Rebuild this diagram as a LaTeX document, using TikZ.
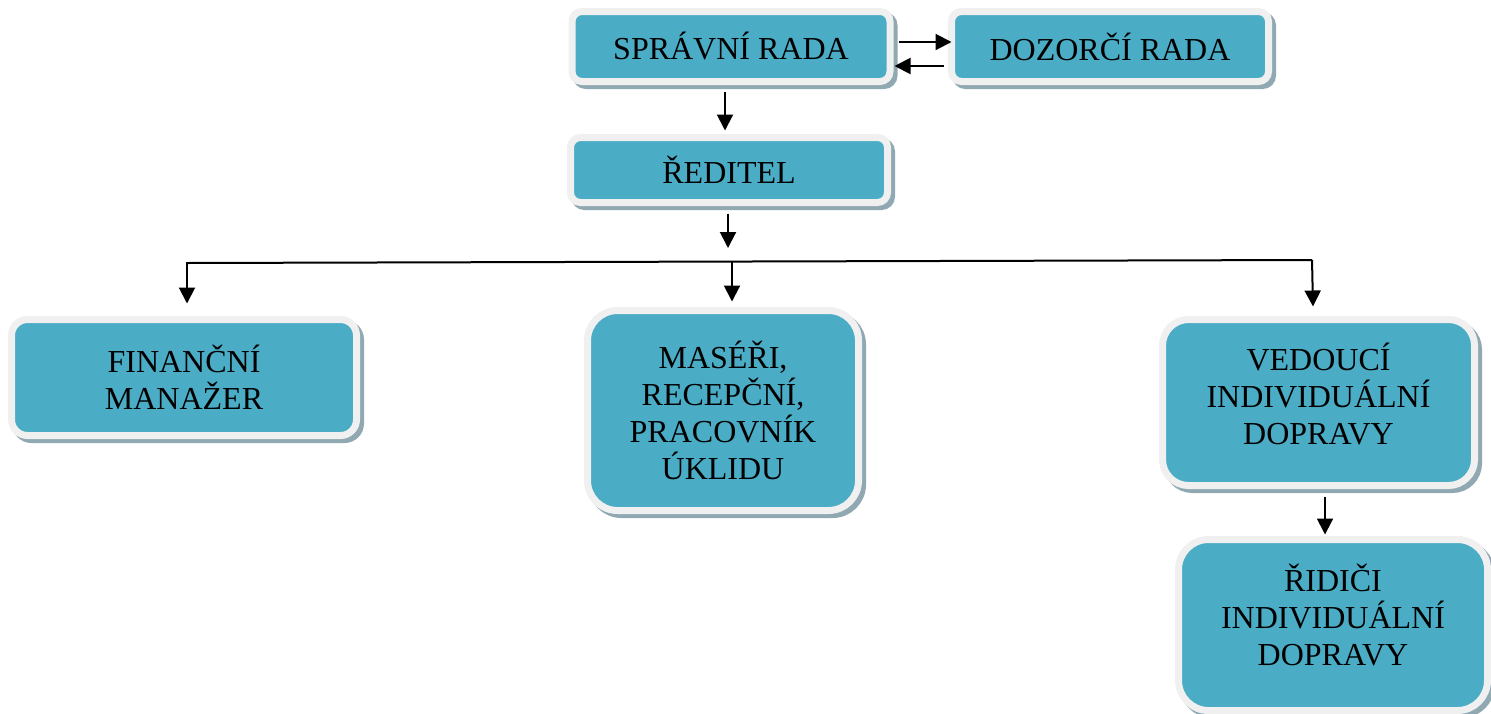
\documentclass[tikz,border=0pt]{standalone}
\usepackage{fontspec}
\setmainfont{Liberation Serif}
\usetikzlibrary{calc,arrows.meta}
\definecolor{boxteal}{HTML}{4BACC6}
\definecolor{boxrim}{HTML}{F0F0F0}
\definecolor{boxshadow}{HTML}{8FA8B2}
\tikzset{
  orgbox/.style={fill=boxteal, draw=boxrim, line width=3.5pt, align=center,
    font=\fontsize{16pt}{18.5pt}\selectfont, text=black, inner sep=0pt,
    preaction={draw=boxshadow, fill=boxshadow, line width=3.5pt,
      transform canvas={xshift=2pt,yshift=-2pt}}},
  arr/.style={line width=1pt, -{Triangle[length=8pt,width=8pt]}},
  plain/.style={line width=1pt}
}
\begin{document}
\begin{tikzpicture}[x=0.5pt,y=-0.5pt]
\useasboundingbox (0,0) rectangle (1491,713);
\node[orgbox, rounded corners=5pt, minimum width=159pt, minimum height=35pt] (sr) at (731,46.5) {SPRÁVNÍ RADA};
\node[orgbox, rounded corners=5pt, minimum width=158.5pt, minimum height=35pt] (doz) at (1110,46.5) {DOZORČÍ RADA};
\node[orgbox, rounded corners=5pt, minimum width=158.5pt, minimum height=32.5pt] (red) at (729,170) {ŘEDITEL};
\node[orgbox, rounded corners=8pt, minimum width=172.5pt, minimum height=58pt] (fin) at (184,377.5) {FINANČNÍ\\MANAŽER};
\node[orgbox, rounded corners=15pt, minimum width=135.5pt, minimum height=100pt] (mas) at (723,410.5) {MASÉŘI,\\RECEPČNÍ,\\PRACOVNÍK\\ÚKLIDU};
\node[orgbox, rounded corners=13pt, minimum width=156pt, minimum height=83pt] (ved) at (1318.5,402.5) {VEDOUCÍ\\INDIVIDUÁLNÍ\\DOPRAVY\\[-10pt]};
\node[orgbox, rounded corners=15pt, minimum width=154.5pt, minimum height=85.5pt] (rid) at (1333,625) {ŘIDIČI\\INDIVIDUÁLNÍ\\DOPRAVY\\[-8.5pt]};
% side arrows
\draw[arr] ($(sr.east)+(5,-4.5)$) -- ($(doz.west)+(3.5,-4.5)$);
\draw[arr] ($(doz.west)+(-4.5,19.5)$) -- ($(sr.east)+(1,19.5)$);
% vertical
\draw[arr] ($(sr.south)+(-6,6.5)$) -- ($(red.north)+(-4,-3.5)$);
\coordinate (j) at (728,248);
\draw[arr] ($(red.south)+(-1,7.5)$) -- (j);
% bus
\coordinate (busL) at (186,263);
\coordinate (busR) at (1312,260);
\coordinate (busM) at (732,261.5);
\draw[plain] (busL) -- (busR);
\draw[arr] ($(busL)+(1,0)$) -- ($(fin.north)+(3,-12.5)$);
\draw[arr] (busM) -- ($(mas.north)+(9,-5.5)$);
\draw[arr] (busR) -- ($(ved.north)+(-5.5,-9.5)$);
\draw[arr] ($(ved.south)+(6.5,7.5)$) -- ($(rid.north)+(-8,-1.5)$);
\end{tikzpicture}
\end{document}
